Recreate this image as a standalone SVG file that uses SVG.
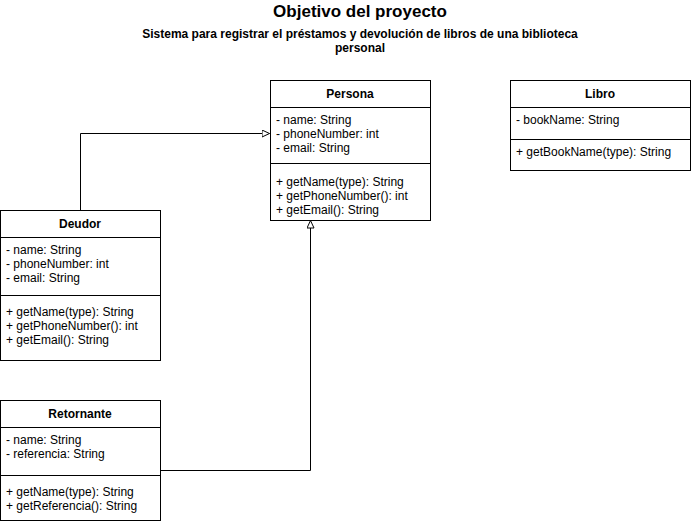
<svg xmlns="http://www.w3.org/2000/svg" width="691" height="524" viewBox="0 0 691 524">
<style>
.box{fill:#fff;stroke:#000;stroke-width:1}
.ln{stroke:#000;stroke-width:1;fill:none}
text{font-family:"Liberation Sans",Arial,Helvetica,sans-serif;font-size:12px;fill:#000}
.h{font-weight:bold;text-anchor:middle}
.t{font-weight:bold;font-size:17px;text-anchor:middle}
</style>
<defs>
<marker id="tri" markerWidth="10" markerHeight="10" refX="8" refY="4" orient="auto" markerUnits="userSpaceOnUse">
<path d="M0.5,0.5 L8,4 L0.5,7.5 Z" fill="#fff" stroke="#000" stroke-width="1"/>
</marker>
</defs>
<rect width="691" height="524" fill="#fff"/>
<g id="title">
<text class="t" x="360" y="17">Objetivo del proyecto</text>
<text class="h" x="360" y="38">Sistema para registrar el préstamos y devolución de libros de una biblioteca</text>
<text class="h" x="360" y="52">personal</text>
</g>
<g id="connectors">
<path class="ln" d="M80.5,210 V133.5 H269.5" marker-end="url(#tri)"/>
<path class="ln" d="M160.5,454 V470.5 H310.5 V220.5" marker-end="url(#tri)"/>
</g>
<g id="persona">
<rect class="box" x="270.5" y="80.5" width="160" height="140"/>
<line class="ln" x1="270.5" y1="107.5" x2="430.5" y2="107.5"/>
<line class="ln" x1="270.5" y1="163.5" x2="430.5" y2="163.5"/>
<text class="h" x="350" y="98">Persona</text>
<text x="276" y="124">- name: String</text>
<text x="276" y="138">- phoneNumber: int</text>
<text x="276" y="152">- email: String</text>
<text x="276" y="186">+ getName(type): String</text>
<text x="276" y="200">+ getPhoneNumber(): int</text>
<text x="276" y="214">+ getEmail(): String</text>
</g>
<g id="libro">
<rect class="box" x="510.5" y="80.5" width="180" height="90"/>
<line class="ln" x1="510.5" y1="107.5" x2="690.5" y2="107.5"/>
<line class="ln" x1="510.5" y1="139.5" x2="690.5" y2="139.5"/>
<text class="h" x="600" y="98">Libro</text>
<text x="516" y="124">- bookName: String</text>
<text x="516" y="156">+ getBookName(type): String</text>
</g>
<g id="deudor">
<rect class="box" x="0.5" y="210.5" width="160" height="150"/>
<line class="ln" x1="0.5" y1="237.5" x2="160.5" y2="237.5"/>
<line class="ln" x1="0.5" y1="295.5" x2="160.5" y2="295.5"/>
<text class="h" x="80" y="228">Deudor</text>
<text x="6" y="254">- name: String</text>
<text x="6" y="268">- phoneNumber: int</text>
<text x="6" y="282">- email: String</text>
<text x="6" y="316">+ getName(type): String</text>
<text x="6" y="330">+ getPhoneNumber(): int</text>
<text x="6" y="344">+ getEmail(): String</text>
</g>
<g id="retornante">
<rect class="box" x="0.5" y="400.5" width="160" height="120"/>
<line class="ln" x1="0.5" y1="427.5" x2="160.5" y2="427.5"/>
<line class="ln" x1="0.5" y1="475.5" x2="160.5" y2="475.5"/>
<text class="h" x="80" y="418">Retornante</text>
<text x="6" y="444">- name: String</text>
<text x="6" y="458">- referencia: String</text>
<text x="6" y="496">+ getName(type): String</text>
<text x="6" y="510">+ getReferencia(): String</text>
</g>
</svg>
